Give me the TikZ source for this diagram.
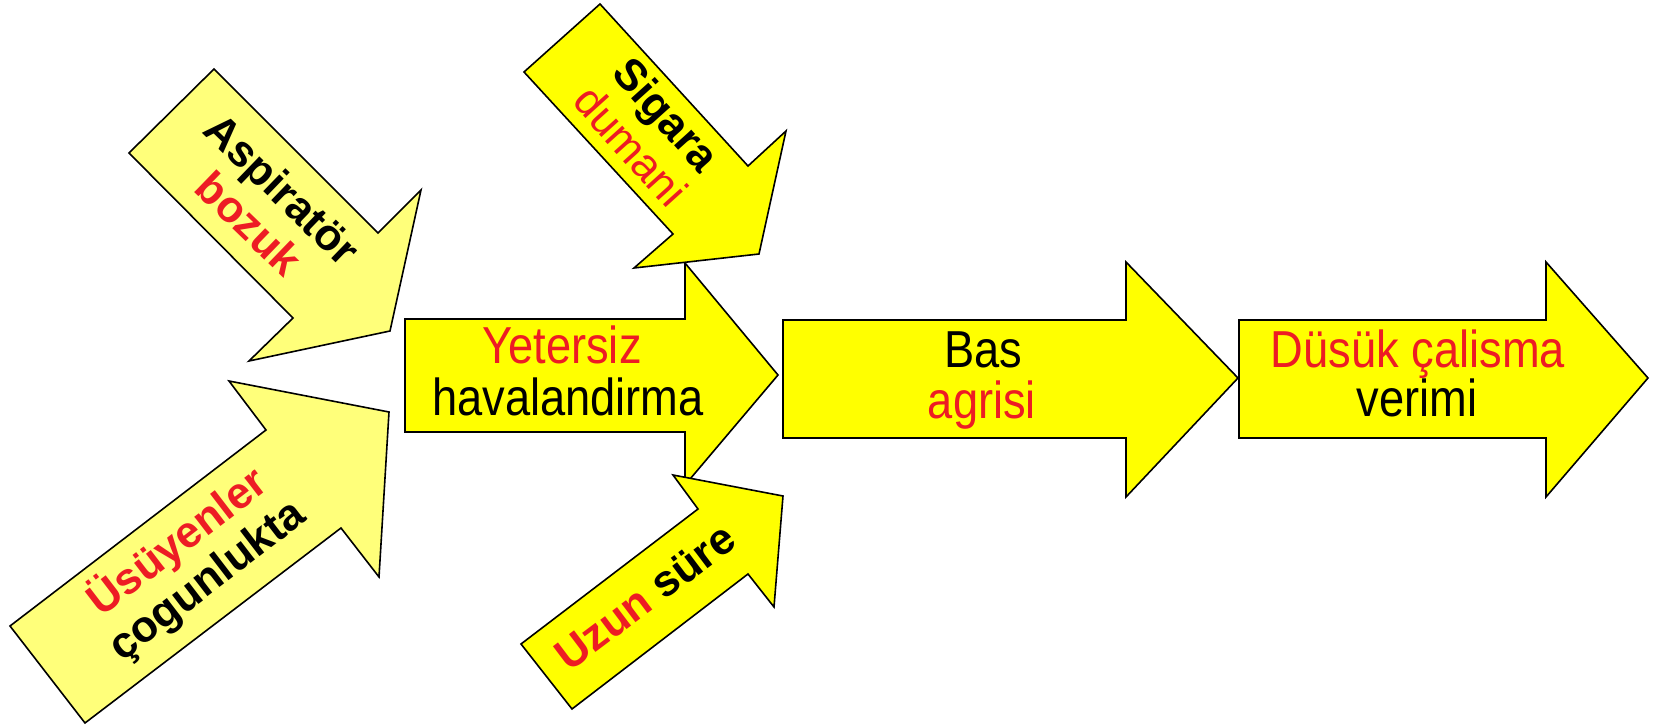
\documentclass[tikz,border=0pt]{standalone}
\usepackage{fontspec}
\setmainfont{Liberation Sans}
\newfontfamily\narrowsans[FakeStretch=0.87]{Liberation Sans}
\definecolor{paleyellow}{HTML}{FFFF7A}
\definecolor{brightyellow}{HTML}{FFFF00}
\definecolor{causered}{HTML}{ED1C24}

\begin{document}
\begin{tikzpicture}[x=1pt,y=-1pt,
  arrowshape/.style={draw=black, line width=1.6pt, line join=miter},
  pale/.style={arrowshape, fill=paleyellow},
  bright/.style={arrowshape, fill=brightyellow},
  flowtext/.style={font=\narrowsans\fontsize{52}{52}\selectfont, inner sep=0pt, anchor=base},
  slanttext/.style={font=\bfseries\fontsize{44}{48}\selectfont, align=center, inner sep=0pt}]
\useasboundingbox (0,0) rectangle (1658,727);

% causes feeding into the ventilation problem
\draw[pale] (214,69) -- (378,233) -- (421,190) -- (390,331) -- (249,361) -- (293,318) -- (129,153) -- cycle;
\draw[pale] (10,626) -- (266,430) -- (229,381) -- (389,412) -- (379,577) -- (341,528) -- (85,723) -- cycle;

% main chain
\draw[bright] (405,319) -- (685,319) -- (685,263) -- (778,375) -- (685,485) -- (685,432) -- (405,432) -- cycle;
\draw[bright] (600,4) -- (748,166) -- (786,131) -- (759,254) -- (634,268) -- (673,234) -- (524,72) -- cycle;
\draw[bright] (521,644) -- (698,509) -- (673,475) -- (783,496) -- (774,607) -- (748,574) -- (572,709) -- cycle;
\draw[bright] (783,320) -- (1126,320) -- (1126,262) -- (1238,378) -- (1126,497) -- (1126,438) -- (783,438) -- cycle;
\draw[bright] (1239,320) -- (1546,320) -- (1546,262) -- (1648,378) -- (1546,497) -- (1546,438) -- (1239,438) -- cycle;

% labels of the slanted arrows
\node[slanttext, rotate=-44] (aspirator) at (266,206) {Aspiratör\\\textcolor{causered}{bozuk}};
\node[slanttext, rotate=37.5] (yasli) at (192,561) {\textcolor{causered}{Üsüyenler}\\çogunlukta};
\node[slanttext, rotate=-48, font=\fontsize{44}{48}\selectfont] (sigara) at (649,130) {\textbf{Sigara}\\\textcolor{causered}{dumani}};
\node[slanttext, rotate=37] (sure) at (645,597) {\textcolor{causered}{Uzun} süre};

% labels of the horizontal chain
\node[flowtext, text=causered] (yetersiz) at (562,363) {Yetersiz};
\node[flowtext] (havalandirma) at (568,415) {havalandirma};
\node[flowtext] (bas) at (983,367) {Bas};
\node[flowtext, text=causered] (agrisi) at (982,418) {agrisi};
\node[flowtext, text=causered] (dusuk) at (1418,367) {Düsük çalisma};
\node[flowtext] (verimi) at (1417,417) {verimi};
\end{tikzpicture}
\end{document}
